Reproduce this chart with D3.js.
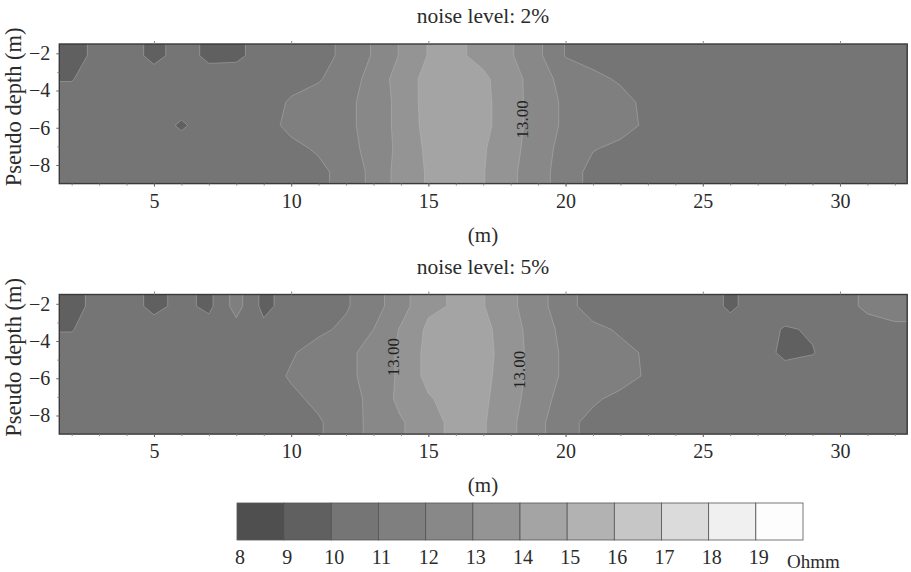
<!DOCTYPE html>
<html>
<head>
<meta charset="utf-8">
<script src="https://cdnjs.cloudflare.com/ajax/libs/d3/7.8.5/d3.min.js"></script>
<style>
    body { margin: 0; background: #fff; }
</style>
</head>
<body>
<div id="chart"></div>
<script>
// grid node positions (m)
var gridX = [2, 3, 4, 5, 6, 7, 8, 9, 10, 11, 12, 13, 14, 15, 16, 17, 18, 19, 20, 21, 22, 23, 24, 25, 26, 27, 28, 29, 30, 31, 32];
var gridDepth = [-2.125, -3.375, -4.625, -5.875, -7.125, -8.375];

// resistivity (Ohmm), one row per depth, noise level 2%
var noise2Rows = [
    [9.6, 10.3, 10.5, 9.7, 10.4, 9.8, 9.8, 10.4, 10.5, 10.7, 11.2, 12.1, 13.1, 14.05, 14.2, 13.7, 13.1, 12.2, 10.95, 10.7, 10.6, 10.5, 10.5, 10.5, 10.4, 10.5, 10.5, 10.5, 10.4, 10.5, 10.5],
    [9.95, 10.5, 10.5, 10.5, 10.5, 10.4, 10.5, 10.5, 10.7, 10.9, 11.6, 12.3, 13.5, 14.3, 14.5, 14.2, 13.4, 12.5, 11.6, 11.2, 10.9, 10.7, 10.5, 10.5, 10.5, 10.5, 10.5, 10.5, 10.5, 10.5, 10.5],
    [10.4, 10.5, 10.5, 10.5, 10.5, 10.5, 10.5, 10.6, 11.1, 11.5, 11.85, 12.25, 13.4, 14.35, 14.6, 14.3, 13.35, 12.6, 11.8, 11.5, 11.25, 10.8, 10.5, 10.5, 10.5, 10.5, 10.5, 10.5, 10.5, 10.5, 10.5],
    [10.4, 10.5, 10.5, 10.5, 9.85, 10.5, 10.5, 10.7, 11.2, 11.5, 11.85, 12.25, 13.4, 14.3, 14.6, 14.3, 13.35, 12.6, 11.8, 11.5, 11.3, 10.85, 10.5, 10.5, 10.5, 10.5, 10.5, 10.5, 10.5, 10.5, 10.5],
    [10.5, 10.5, 10.5, 10.5, 10.5, 10.5, 10.5, 10.5, 10.8, 11.1, 11.7, 12.3, 13.3, 14.2, 14.5, 14.1, 13.3, 12.5, 11.6, 11.05, 10.8, 10.6, 10.5, 10.5, 10.5, 10.5, 10.5, 10.5, 10.5, 10.5, 10.5],
    [10.5, 10.5, 10.5, 10.5, 10.5, 10.5, 10.5, 10.5, 10.5, 10.8, 11.3, 12.3, 13.4, 14.1, 14.3, 14.05, 13.2, 12.4, 11.5, 10.7, 10.5, 10.5, 10.5, 10.5, 10.5, 10.5, 10.5, 10.5, 10.5, 10.5, 10.5]
];

// noise level 5%
var noise5Rows = [
    [9.6, 10.4, 10.5, 9.7, 10.3, 9.75, 11.4, 9.7, 10.5, 10.4, 10.9, 11.6, 12.6, 13.8, 14.1, 14.05, 13.2, 12.4, 11.3, 10.6, 10.4, 10.5, 10.5, 10.6, 9.8, 10.5, 10.6, 10.6, 10.8, 11.1, 11.2],
    [9.95, 10.5, 10.5, 10.5, 10.5, 10.5, 10.6, 10.3, 10.5, 10.8, 11.2, 12.0, 13.1, 14.2, 14.4, 14.3, 13.4, 12.5, 11.7, 11.2, 10.9, 10.8, 10.6, 10.5, 10.5, 10.5, 9.9, 10.1, 10.6, 10.8, 10.9],
    [10.4, 10.5, 10.5, 10.5, 10.5, 10.5, 10.5, 10.5, 10.9, 11.4, 11.8, 12.3, 13.2, 14.3, 14.6, 14.4, 13.4, 12.6, 11.8, 11.5, 11.2, 10.9, 10.7, 10.6, 10.5, 10.4, 9.8, 9.95, 10.5, 10.6, 10.6],
    [10.5, 10.5, 10.5, 10.5, 10.5, 10.5, 10.5, 10.6, 11.1, 11.4, 11.8, 12.3, 13.2, 14.3, 14.5, 14.3, 13.4, 12.6, 11.8, 11.5, 11.3, 10.9, 10.7, 10.6, 10.5, 10.5, 10.4, 10.5, 10.5, 10.5, 10.5],
    [10.5, 10.5, 10.5, 10.5, 10.5, 10.5, 10.5, 10.5, 10.8, 11.2, 11.7, 12.2, 13.3, 13.9, 14.4, 14.2, 13.3, 12.5, 11.5, 11.1, 10.8, 10.6, 10.5, 10.5, 10.5, 10.5, 10.5, 10.5, 10.5, 10.5, 10.5],
    [10.5, 10.5, 10.5, 10.5, 10.5, 10.5, 10.5, 10.5, 10.5, 10.9, 11.5, 12.3, 12.9, 13.6, 14.3, 14.1, 13.2, 12.3, 11.2, 10.8, 10.6, 10.5, 10.5, 10.5, 10.5, 10.5, 10.5, 10.5, 10.5, 10.5, 10.5]
];

// "13.00" contour label spots
var labels2X = [18.4], labels2Depth = [-5.55];
var labels5X = [13.7, 18.3], labels5Depth = [-4.87, -5.55];

// colour scale
var levels = [8, 9, 10, 11, 12, 13, 14, 15, 16, 17, 18, 19, 20];
var bandColors = ["#4f4f4f", "#606060", "#757575", "#7f7f7f", "#888888", "#949494",
                  "#a4a4a4", "#b2b2b2", "#c6c6c6", "#dbdbdb", "#f0f0f0", "#fdfdfd"];
var xTicks = [5, 10, 15, 20, 25, 30];
var yTicks = [-2, -4, -6, -8];

var FONT = '"Liberation Serif", "Times New Roman", serif';
var W = 911, H = 572;
var svg = d3.select('#chart').append('svg')
    .attr('width', W)
    .attr('height', H)
    .style('font-family', FONT);

var x = d3.scaleLinear().domain([1.55, 32.45]).range([59.3, 907.2]);
var plotH = 139.6;

// repeat edge rows/cols once so contour rings close outside the visible frame
var padGrid = function (rows) {
    var out = rows.map(function (r) { return [r[0]].concat(r, [r[r.length - 1]]); });
    return [out[0]].concat(out, [out[out.length - 1]]);
};

var styleText = function (s) {
    s.selectAll('text')
        .style('font-family', FONT)
        .style('font-size', '20px')
        .style('fill', '#2b2b2b');
};

var drawPanel = function (id, rows, top, title, labX, labD) {
    var grid = padGrid(rows);
    var nx = grid[0].length, ny = grid.length;
    var values = [].concat.apply([], grid);
    var y = d3.scaleLinear().domain([-1.5, -9]).range([top, top + plotH]);
    var stepX = gridX[1] - gridX[0];
    var stepD = gridDepth[0] - gridDepth[1];
    var gx = d3.scaleLinear().domain([0, nx])
        .range([gridX[0] - 1.5 * stepX, gridX[gridX.length - 1] + 1.5 * stepX]);
    var gy = d3.scaleLinear().domain([0, ny])
        .range([gridDepth[0] + 1.5 * stepD, gridDepth[gridDepth.length - 1] - 1.5 * stepD]);
    var path = d3.geoPath(d3.geoTransform({
        point: function (u, v) { this.stream.point(x(gx(u)), y(gy(v))); }
    }));

    svg.append('clipPath').attr('id', id)
        .append('rect')
        .attr('x', x.range()[0]).attr('y', top)
        .attr('width', x.range()[1] - x.range()[0]).attr('height', plotH);

    var contours = d3.contours().size([nx, ny]).thresholds(levels.slice(0, -1))(values);

    var g = svg.append('g').attr('clip-path', 'url(#' + id + ')');
    g.selectAll('path').data(contours)
        .enter().append('path')
        .attr('d', path)
        .attr('fill', function (d) { return bandColors[levels.indexOf(d.value)]; })
        .attr('stroke', '#bdbdbd')
        .attr('stroke-width', 0.7)
        .attr('stroke-opacity', 0.6);

    // contour labels
    labX.forEach(function (lx, i) {
        svg.append('text')
            .attr('transform', 'translate(' + x(lx) + ',' + y(labD[i]) + ') rotate(-90)')
            .attr('text-anchor', 'middle')
            .attr('dy', '0.35em')
            .style('font-size', '17px')
            .style('fill', '#222')
            .text('13.00');
    });

    // frame
    svg.append('rect')
        .attr('x', x.range()[0]).attr('y', top)
        .attr('width', x.range()[1] - x.range()[0]).attr('height', plotH)
        .attr('fill', 'none')
        .attr('stroke', '#3a3a3a')
        .attr('stroke-width', 1.4);

    // ticks
    var bottom = top + plotH;
    svg.append('g').attr('transform', 'translate(0,' + bottom + ')')
        .call(d3.axisBottom(x).tickValues(d3.range(2, 33)).tickSize(2).tickFormat(''))
        .call(function (s) { s.select('.domain').remove(); s.selectAll('line').attr('stroke', '#888'); });
    svg.append('g').attr('transform', 'translate(0,' + bottom + ')')
        .call(d3.axisBottom(x).tickValues(xTicks).tickSize(3).tickPadding(7))
        .call(function (s) {
            s.select('.domain').remove();
            s.selectAll('line').attr('stroke', '#666');
            styleText(s);
        });
    svg.append('g').attr('transform', 'translate(0,' + top + ')')
        .call(d3.axisTop(x).tickValues(xTicks).tickSize(3).tickFormat(''))
        .call(function (s) { s.select('.domain').remove(); s.selectAll('line').attr('stroke', '#888'); });

    svg.append('g').attr('transform', 'translate(' + x.range()[0] + ',0)')
        .call(d3.axisLeft(y).tickValues([-3, -5, -7]).tickSize(2).tickFormat(''))
        .call(function (s) { s.select('.domain').remove(); s.selectAll('line').attr('stroke', '#888'); });
    svg.append('g').attr('transform', 'translate(' + x.range()[0] + ',0)')
        .call(d3.axisLeft(y).tickValues(yTicks).tickSize(3).tickPadding(6))
        .call(function (s) {
            s.select('.domain').remove();
            s.selectAll('line').attr('stroke', '#666');
            styleText(s);
        });

    // titles
    svg.append('text')
        .attr('x', 483).attr('y', top - 21)
        .attr('text-anchor', 'middle')
        .style('font-size', '21.5px')
        .style('fill', '#2b2b2b')
        .text(title);
    svg.append('text')
        .attr('x', 483).attr('y', bottom + 58)
        .attr('text-anchor', 'middle')
        .style('font-size', '21px')
        .style('fill', '#2b2b2b')
        .text('(m)');
    svg.append('text')
        .attr('transform', 'translate(21,' + (top + plotH / 2 - 7) + ') rotate(-90)')
        .attr('text-anchor', 'middle')
        .style('font-size', '22.5px')
        .style('fill', '#2b2b2b')
        .text('Pseudo depth (m)');
};

drawPanel('clip2', noise2Rows, 44, 'noise level: 2%', labels2X, labels2Depth);
drawPanel('clip5', noise5Rows, 294.5, 'noise level: 5%', labels5X, labels5Depth);

// colour bar
var cb = d3.scaleLinear().domain([8, 20]).range([237, 803]);
var cbg = svg.append('g');
cbg.selectAll('rect').data(levels.slice(0, -1))
    .enter().append('rect')
    .attr('x', function (d) { return cb(d); })
    .attr('y', 503)
    .attr('width', function (d) { return cb(d + 1) - cb(d); })
    .attr('height', 37)
    .attr('fill', function (d, i) { return bandColors[i]; })
    .attr('stroke', '#555')
    .attr('stroke-width', 0.8);
cbg.selectAll('text').data(levels.slice(0, -1))
    .enter().append('text')
    .attr('x', function (d) { return cb(d) + 3; })
    .attr('y', 564)
    .attr('text-anchor', 'middle')
    .style('font-size', '20px')
    .style('fill', '#2b2b2b')
    .text(function (d) { return d; });
svg.append('text')
    .attr('x', 787).attr('y', 568)
    .style('font-size', '19px')
    .style('fill', '#2b2b2b')
    .text('Ohmm');
</script>
</body>
</html>
